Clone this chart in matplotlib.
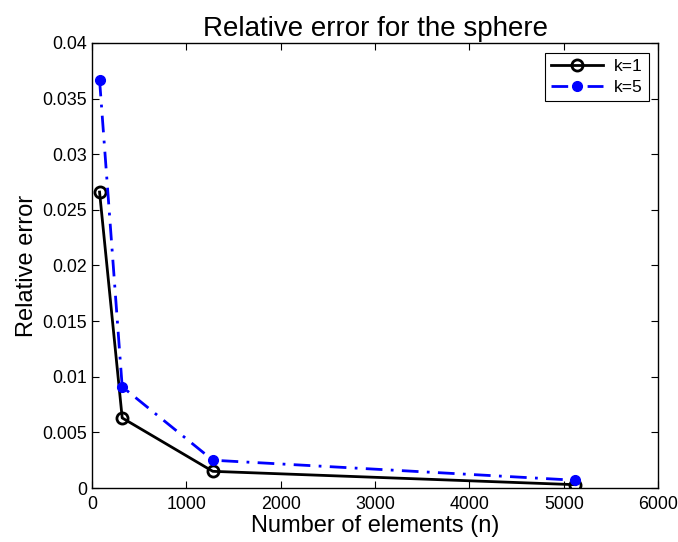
import matplotlib
matplotlib.use("Agg")
import matplotlib.pyplot as plt

plt.rcParams['font.family'] = ['Liberation Sans', 'DejaVu Sans']

# nombre d'elements et erreurs relatives
n_elements = [80, 320, 1280, 5120]
err_k1 = [0.0266, 0.0063, 0.0015, 0.0003]
err_k5 = [0.0367, 0.0091, 0.0025, 0.0007]
x_ticks = [0, 1000, 2000, 3000, 4000, 5000, 6000]
y_ticks = [0, 0.005, 0.01, 0.015, 0.02, 0.025, 0.03, 0.035, 0.04]

fig = plt.figure(figsize=(6.78, 5.42), dpi=100)
ax = fig.add_axes([0.1357, 0.0996, 0.835, 0.8211])

ax.plot(n_elements, err_k1, 'k-', lw=2, marker='o', markersize=8,
        markerfacecolor='none', markeredgewidth=2, label='k=1')
ax.plot(n_elements, err_k5, color='b', ls=(0, (6, 3, 1, 3)), lw=2, marker='o', markersize=7,
        markerfacecolor='b', markeredgecolor='b', label='k=5')

ax.set_xlim(0, 6000)
ax.set_ylim(0, 0.04)
ax.set_xticks(x_ticks)
ax.set_yticks(y_ticks)
ax.set_xticklabels([str(t) for t in x_ticks])
ax.set_yticklabels(['0', '0.005', '0.01', '0.015', '0.02', '0.025', '0.03', '0.035', '0.04'])
ax.tick_params(direction='in', top=True, right=True, labelsize=12.8, length=5, width=0.8)
ax.tick_params(axis='x', pad=6)
for s in ax.spines.values():
    s.set_linewidth(1)

ax.set_xlabel('Number of elements (n)', fontsize=17, labelpad=1)
ax.set_ylabel('Relative error', fontsize=17, labelpad=3)
ax.set_title('Relative error for the sphere', fontsize=20, pad=5)

leg = ax.legend(loc='upper right', fontsize=12.5, fancybox=False, edgecolor='k',
                framealpha=1, borderaxespad=0.55, handlelength=3.0, borderpad=0.35,
                labelspacing=0.35, handletextpad=0.6)
leg.get_frame().set_linewidth(0.8)

fig.savefig('out.png', dpi=100)
